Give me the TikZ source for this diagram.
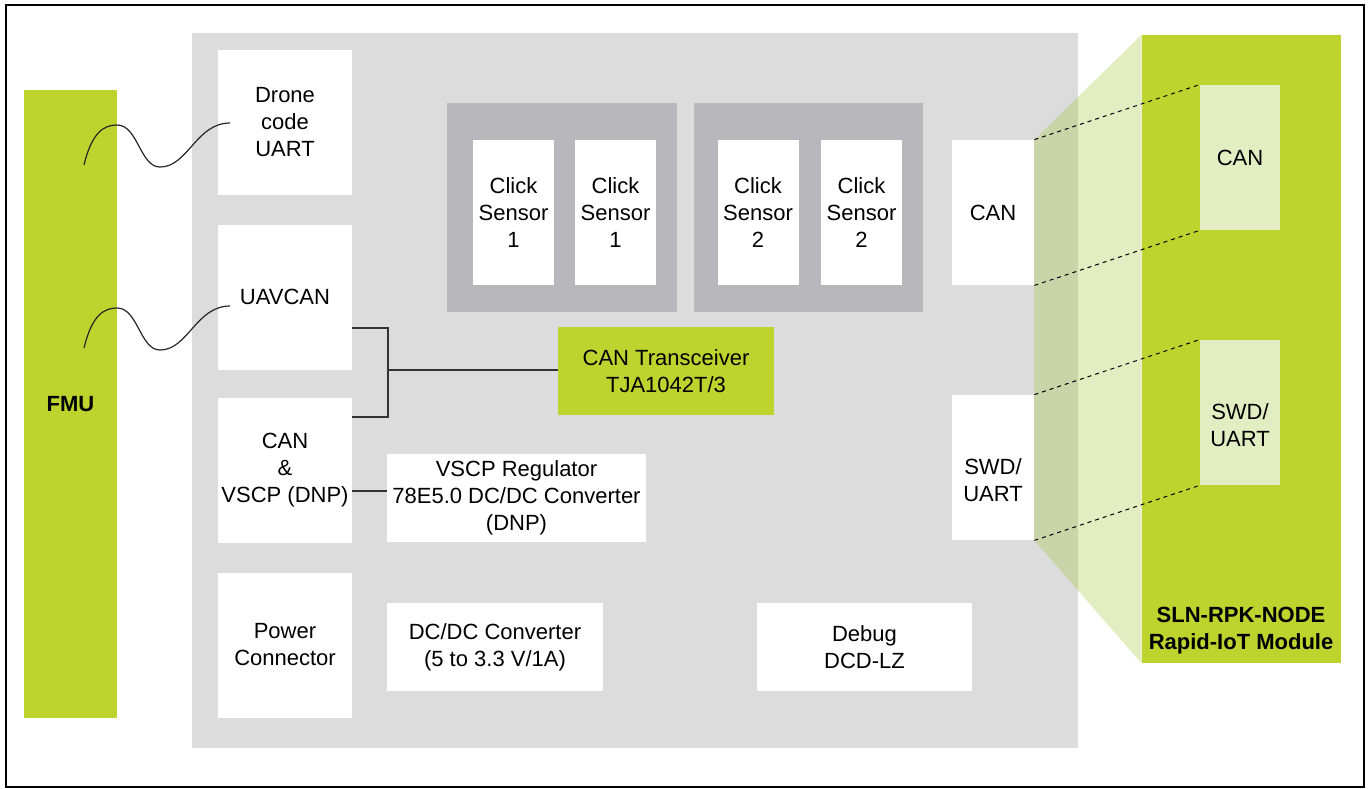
\documentclass[tikz,border=0pt]{standalone}
\usepackage{fontspec}
\setmainfont{Liberation Sans}
\usetikzlibrary{positioning}
\definecolor{rpkgreen}{RGB}{190,212,46}
\definecolor{rpklight}{RGB}{227,237,194}
\definecolor{boardgray}{RGB}{220,220,220}
\definecolor{slotgray}{RGB}{184,184,188}
\definecolor{shadegreen}{RGB}{162,195,52}

\begin{document}
\begin{tikzpicture}[x=0.5pt,y=-0.5pt,font=\fontsize{11}{13.5}\selectfont,
  blk/.style={fill=white,inner sep=0pt,align=center},
  grn/.style={fill=rpkgreen,inner sep=0pt,align=center},
  port/.style={fill=rpklight,inner sep=0pt,align=center,
               minimum width=40pt,minimum height=72.5pt},
  slot/.style={fill=slotgray,inner sep=0pt,minimum height=104.5pt},
  sensor/.style={blk,minimum width=40.5pt,minimum height=72.5pt},
  leftbox/.style={blk,minimum width=67pt,minimum height=72.5pt},
  wide/.style={blk,minimum height=44pt},
  wire/.style={draw=black!80,line width=0.6pt},
  wave/.style={draw=black!85,line width=0.6pt},
  link/.style={dash pattern=on 2pt off 2pt,line width=0.5pt}]

  \useasboundingbox (0,0) rectangle (1369,788);
  \draw[line width=1pt] (6,5) rectangle (1364,787);

  % carrier board and the two modules
  \node[fill=boardgray,inner sep=0pt,minimum width=443pt,
        minimum height=357.5pt] (board) at (635,390.5) {};
  \node[grn,font=\fontsize{11}{13.5}\selectfont\bfseries,
        minimum width=46.5pt,minimum height=314pt] (fmu) at (70.5,404) {FMU};
  \node[grn,minimum width=99.5pt,minimum height=314pt] (rpk) at (1241.5,349) {};
  \node[font=\fontsize{11}{13.5}\selectfont\bfseries,align=center,
        anchor=south] (rpklbl) at (1241,661) {SLN-RPK-NODE\\Rapid-IoT Module};

  % projection of the module connectors
  \fill[shadegreen,opacity=0.3] (1034,140) -- (rpk.north west)
    -- (rpk.south west) -- (1034,540) -- cycle;

  % left column
  \node[leftbox] (uart)   at (285,122.5) {Drone\\code\\UART};
  \node[leftbox] (uavcan) at (285,297)   {UAVCAN};
  \node[leftbox] (canv)   at (285,470.5) {CAN\\\&\\VSCP (DNP)};
  \node[leftbox] (pwr)    at (285,645)   {Power\\Connector};

  % click sensor slots
  \node[slot,minimum width=115pt]   (slotA) at (562,207.5) {};
  \node[slot,minimum width=114.5pt] (slotB) at (808.5,207.5) {};
  \foreach \nm/\cx/\k in {sA/513.5/1, sB/615.5/1, sC/758/2, sD/861.5/2} {
    \node[sensor] (\nm) at (\cx,212.5) {Click\\Sensor\\\k};
  }

  % middle blocks
  \node[grn,minimum width=108pt,minimum height=44pt] (trx) at (666,371)
    {CAN Transceiver\\TJA1042T/3};
  \node[wide,minimum width=129.5pt] (vreg) at (516.5,498)
    {VSCP Regulator\\78E5.0 DC/DC Converter\\(DNP)};
  \node[wide,minimum width=108pt]   (dcdc) at (495,647)
    {DC/DC Converter\\(5 to 3.3 V/1A)};
  \node[wide,minimum width=107.5pt] (dbg)  at (864.5,647) {Debug\\DCD-LZ};

  % module headers on the board
  \node[blk,minimum width=41pt,minimum height=72.5pt] (can2) at (993,212.5) {CAN};
  \node[blk,minimum width=41pt,minimum height=72.5pt] (swd2) at (993,467.5) {};
  \node[align=center] (swd2lbl) at ([yshift=-6.25pt]swd2.center) {SWD/\\UART};

  % connectors on the module
  \node[port] (mcan) at (1240,157.5) {CAN};
  \node[port] (mswd) at (1240,412.5) {};
  \node[align=center] (mswdlbl) at ([yshift=-6.25pt]mswd.center) {SWD/\\UART};

  \draw[link] (can2.north east) -- (mcan.north west);
  \draw[link] (can2.south east) -- (mcan.south west);
  \draw[link] (swd2.north east) -- (mswd.north west);
  \draw[link] (swd2.south east) -- (mswd.south west);

  % CAN bus
  \coordinate (bus) at (388,370);
  \draw[wire] (uavcan.east |- 0,328) -| (bus) |- (canv.east |- 0,417);
  \draw[wire] (bus) -- (trx.west |- bus);
  \draw[wire] (canv.east |- 0,491) -- (vreg.west |- 0,491);

  % cables from the FMU
  \coordinate (w1a) at (84,165);
  \coordinate (w1b) at (230,123);
  \coordinate (w2a) at (84,348);
  \coordinate (w2b) at (230,306);
  \draw[wave] (w1a) .. controls (92,132) and (104,125) .. (117,125)
    .. controls (138,125) and (140,167) .. (160,167)
    .. controls (188,167) and (196,123) .. (w1b);
  \draw[wave] (w2a) .. controls (92,315) and (104,308) .. (117,308)
    .. controls (138,308) and (140,350) .. (160,350)
    .. controls (188,350) and (196,306) .. (w2b);

\end{tikzpicture}
\end{document}
